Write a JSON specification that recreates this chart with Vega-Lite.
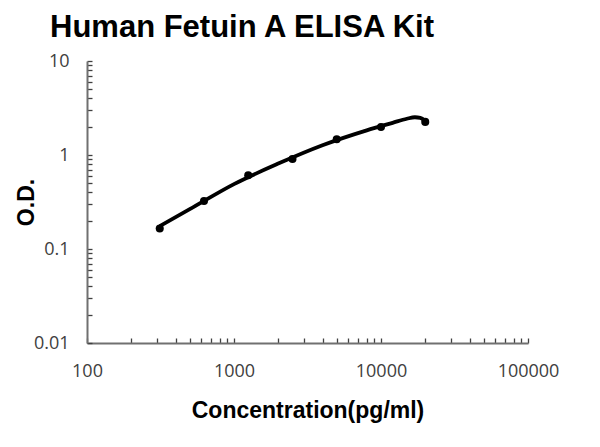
{
  "$schema": "https://vega.github.io/schema/vega-lite/v6.json",
  "width": 441,
  "height": 282,
  "autosize": {"type": "none"},
  "padding": {"left": 87, "top": 61, "right": 72, "bottom": 104},
  "background": "white",
  "title": {
    "text": "Human Fetuin A ELISA Kit",
    "anchor": "start",
    "frame": "group",
    "dx": -37,
    "offset": 8,
    "font": "Liberation Sans",
    "fontSize": 31,
    "fontWeight": "bold",
    "color": "black"
  },
  "datasets": {
    "points": [
      {"conc": 312.5, "od": 0.165},
      {"conc": 625, "od": 0.324},
      {"conc": 1250, "od": 0.61},
      {"conc": 2500, "od": 0.905},
      {"conc": 5000, "od": 1.47},
      {"conc": 10000, "od": 1.99},
      {"conc": 20000, "od": 2.25}
    ],
    "curve": [
      {"conc": 312.5, "od": 0.175},
      {"conc": 500, "od": 0.265},
      {"conc": 1000, "od": 0.49},
      {"conc": 2000, "od": 0.81},
      {"conc": 4000, "od": 1.27},
      {"conc": 8000, "od": 1.83},
      {"conc": 12000, "od": 2.2},
      {"conc": 15000, "od": 2.43},
      {"conc": 17000, "od": 2.52},
      {"conc": 18500, "od": 2.48},
      {"conc": 20000, "od": 2.3}
    ]
  },
  "config": {
    "view": {"stroke": null},
    "axis": {
      "grid": false,
      "domainColor": "#707070",
      "domainWidth": 2,
      "tickColor": "#404040",
      "tickWidth": 1.3,
      "tickSize": -5,
      "labelFont": "Open Sans",
      "labelFontSize": 18,
      "labelColor": "#404040",
      "labelFlush": false,
      "titleFont": "Liberation Sans",
      "titleFontSize": 23,
      "titleFontWeight": "bold",
      "titleColor": "black"
    }
  },
  "layer": [
    {
      "data": {"name": "curve"},
      "mark": {"type": "line", "color": "black", "strokeWidth": 3.8, "interpolate": "monotone"},
      "encoding": {
        "x": {
          "field": "conc", "type": "quantitative",
          "scale": {"type": "log", "domain": [100, 100000], "nice": false},
          "axis": {
            "title": "Concentration(pg/ml)",
            "values": [100,200,300,400,500,600,700,800,900,1000,2000,3000,4000,5000,6000,7000,8000,9000,10000,20000,30000,40000,50000,60000,70000,80000,90000,100000],
            "labelExpr": "indexof([100,1000,10000,100000], datum.value) >= 0 ? format(datum.value, 'd') : ''",
            "labelPadding": 24,
            "labelOverlap": false,
            "titlePadding": 19
          }
        },
        "y": {
          "field": "od", "type": "quantitative",
          "scale": {"type": "log", "domain": [0.01, 10], "nice": false},
          "axis": {
            "title": "O.D.",
            "values": [0.01,0.02,0.03,0.04,0.05,0.06,0.07,0.08,0.09,0.1,0.2,0.3,0.4,0.5,0.6,0.7,0.8,0.9,1,2,3,4,5,6,7,8,9,10],
            "labelExpr": "indexof([0.01,0.1,1,10], datum.value) >= 0 ? format(datum.value, '~g') : ''",
            "labelPadding": 23,
            "labelOverlap": false,
            "titlePadding": -5
          }
        }
      }
    },
    {
      "data": {"name": "points"},
      "mark": {"type": "circle", "color": "black", "size": 65, "opacity": 1},
      "encoding": {
        "x": {"field": "conc", "type": "quantitative"},
        "y": {"field": "od", "type": "quantitative"}
      }
    }
  ]
}
